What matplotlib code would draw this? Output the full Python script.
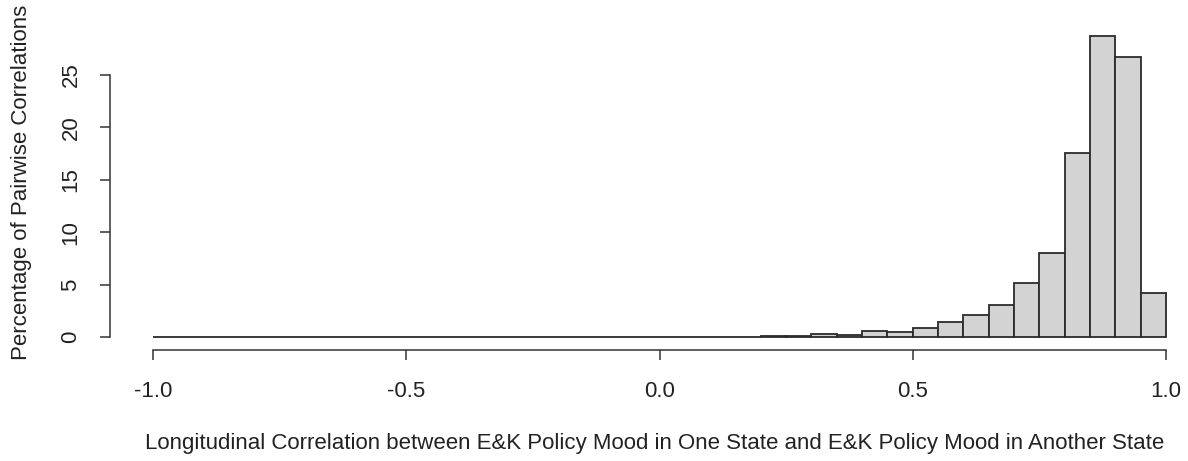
import numpy as np
import matplotlib
matplotlib.use("Agg")
import matplotlib.pyplot as plt

plt.rcParams['font.family'] = ['Liberation Sans', 'DejaVu Sans']

# histogram bins: -1 to 1, width 0.05 (40 bins)
bin_edges = np.round(np.arange(-1.0, 1.0001, 0.05), 2)
# percentage of pairwise correlations per bin
pct = [0.0] * 24 + [0.12, 0.12, 0.3, 0.15, 0.6, 0.45, 0.9, 1.4,
                    2.1, 3.05, 5.2, 8.0, 17.6, 28.7, 26.7, 4.2]
x_ticks = [-1.0, -0.5, 0.0, 0.5, 1.0]
x_tick_labels = ["-1.0", "-0.5", "0.0", "0.5", "1.0"]
y_ticks = [0, 5, 10, 15, 20, 25]

W, H = 1188, 461
fig = plt.figure(figsize=(W / 100, H / 100), dpi=100)

# plot region in pixels
left_px, right_px, top_px, bottom_px = 110, 1188, 20, 350
ax = fig.add_axes([left_px / W, (H - bottom_px) / H,
                   (right_px - left_px) / W, (bottom_px - top_px) / H])

ax.bar(bin_edges[:-1], pct, width=0.05, align='edge',
       color='#d3d3d3', edgecolor='#2b2b2b', linewidth=1.3)

# x: -1 at px 153, 1 at px 1166
ppu = (1166 - 153) / 2.0
ax.set_xlim(-1 - (153 - left_px) / ppu, 1 + (right_px - 1166) / ppu)
# y: 0 at px 337, 25 at px 75
ppy = (337 - 75) / 25.0
ax.set_ylim(-(bottom_px - 337) / ppy, (337 - top_px) / ppy)

for s in ['top', 'right']:
    ax.spines[s].set_visible(False)
ax.spines['left'].set_bounds(0, 25)
ax.spines['bottom'].set_bounds(-1, 1)
for s in ['left', 'bottom']:
    ax.spines[s].set_color('#333333')
    ax.spines[s].set_linewidth(1.1)

ax.set_xticks(x_ticks)
ax.set_xticklabels(x_tick_labels)
ax.set_yticks(y_ticks)
ax.set_yticklabels([str(v) for v in y_ticks], rotation=90, va='center')
ax.tick_params(axis='both', length=7.5, width=1.1, color='#333333',
               labelsize=16, labelcolor='#222222')
ax.tick_params(axis='x', pad=15)
ax.tick_params(axis='y', pad=13)

fig.text(655 / W, 1 - 443 / H,
         "Longitudinal Correlation between E&K Policy Mood in One State "
         "and E&K Policy Mood in Another State",
         ha='center', va='center', fontsize=16, color='#222222')
fig.text(22 / W, 1 - 182 / H, "Percentage of Pairwise Correlations",
         ha='center', va='center', rotation=90, fontsize=16,
         color='#222222')

fig.savefig("out.png", dpi=100)
